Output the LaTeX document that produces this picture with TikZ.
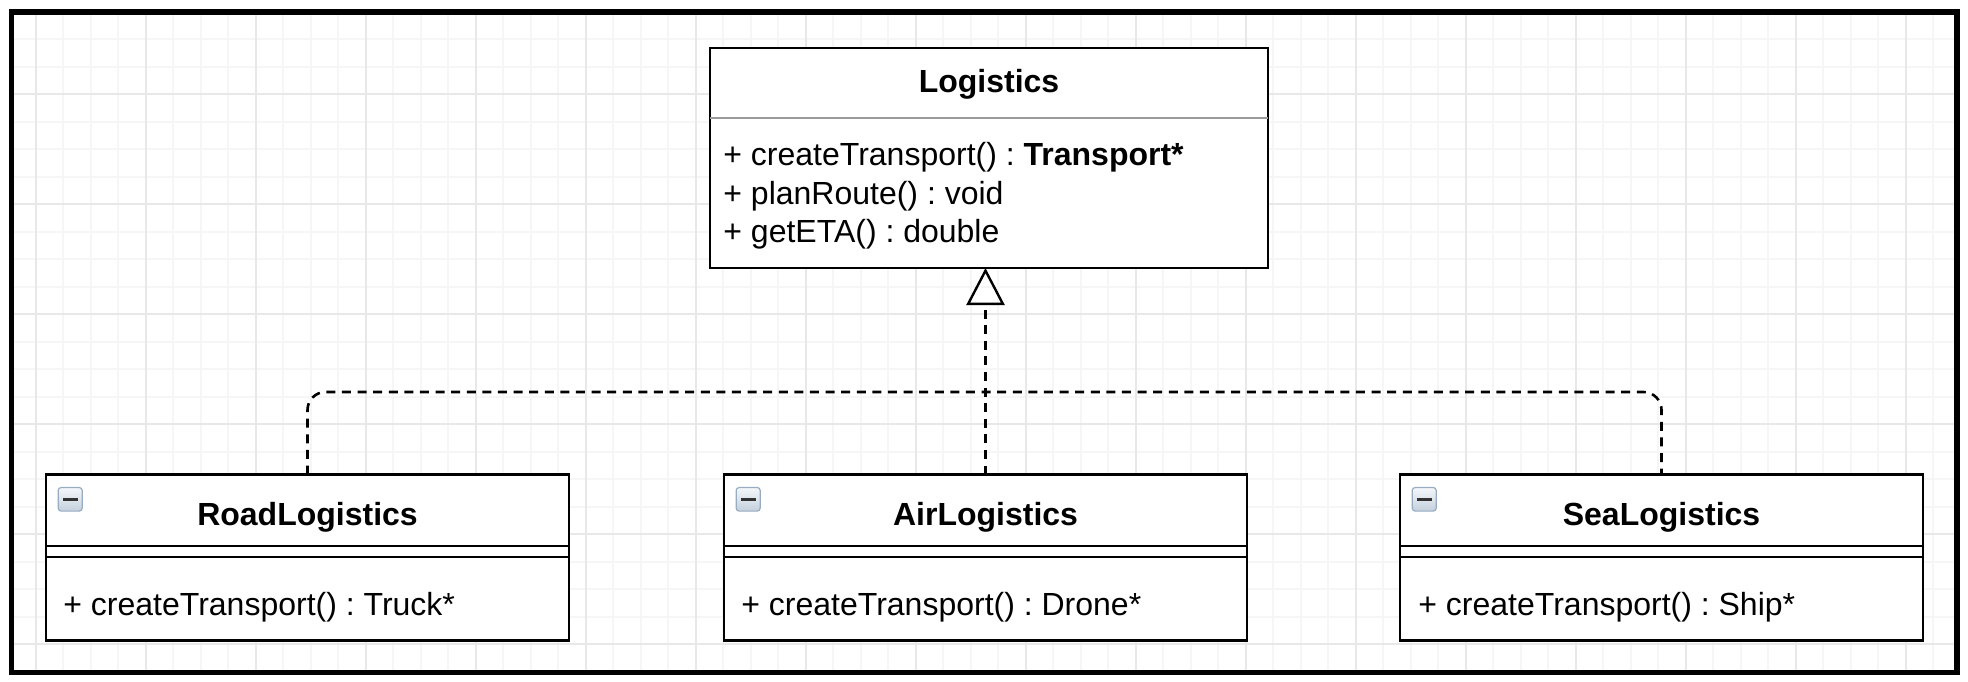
\documentclass[tikz,border=0pt]{standalone}
\usepackage{fontspec}
\setmainfont{Liberation Sans}
\usetikzlibrary{arrows.meta}
\definecolor{gridminor}{HTML}{F6F6F6}
\definecolor{gridmajor}{HTML}{E8E8E8}
\definecolor{iconedge}{HTML}{98ACC2}
\definecolor{icontop}{HTML}{F4F7FA}
\definecolor{iconbot}{HTML}{C4D0DC}
\definecolor{sepgray}{HTML}{9A9A9A}
\frenchspacing
\begin{document}
\begin{tikzpicture}[x=0.5pt,y=-0.5pt,
  box/.style={draw=black,line width=1.2pt,fill=white,inner sep=0pt,outer sep=0pt,anchor=north west},
  parentbox/.style={box,minimum width=279pt,minimum height=110pt},
  childbox/.style={box,minimum width=261.5pt,minimum height=83pt},
  classtitle/.style={font=\fontsize{16pt}{19pt}\selectfont\bfseries,anchor=base,inner sep=0pt},
  member/.style={font=\fontsize{16pt}{19pt}\selectfont,anchor=base west,inner sep=0pt},
  realize/.style={line width=1.3pt,dash pattern=on 4.5pt off 3.3pt},
  icon/.style={draw=iconedge,line width=0.6pt,rounded corners=1.5pt,top color=icontop,bottom color=iconbot,minimum width=12pt,minimum height=11.8pt,inner sep=0pt,anchor=north west},
  minus/.style={draw=black!80,line width=1.5pt},
  frame/.style={draw=black,line width=2.6pt}
]
\useasboundingbox (0,0) rectangle (1968,681);
% grid
\begin{scope}
\clip (11.5,12) rectangle (1957,672.5);
\foreach \i in {0,...,70} {
  \draw[gridminor,line width=0.9pt] ({35.7+27.5*\i},0) -- ({35.7+27.5*\i},681);
}
\foreach \i in {0,...,24} {
  \draw[gridminor,line width=0.9pt] (0,{11.8+27.5*\i}) -- (1968,{11.8+27.5*\i});
}
\foreach \i in {0,...,17} {
  \draw[gridmajor,line width=0.9pt] ({35.7+110*\i},0) -- ({35.7+110*\i},681);
}
\foreach \i in {0,...,6} {
  \draw[gridmajor,line width=0.9pt] (0,{94.3+110*\i}) -- (1968,{94.3+110*\i});
}
\end{scope}
\draw[frame] (11.5,12) rectangle (1957,672.5);

% parent class
\node[parentbox] (logistics) at (710,48) {};
\draw[sepgray,line width=1pt] ([yshift=-35pt]logistics.north west) -- ([yshift=-35pt]logistics.north east);
\node[classtitle] (logt) at (989,92) {Logistics};
\node[member] (lm1) at (723,165) {+ createTransport() : \textbf{Transport*}};
\node[member] (lm2) at (723,204) {+ planRoute() : void};
\node[member] (lm3) at (723,242) {+ getETA() : double};

% child classes
\node[childbox] (road) at (46,474.5) {};
\node[childbox] (air) at (724,474.5) {};
\node[childbox] (sea) at (1400,474.5) {};
\foreach \b in {road,air,sea} {
  \draw[line width=1.2pt] ([yshift=-35.75pt]\b.north west) -- ([yshift=-35.75pt]\b.north east);
  \draw[line width=1.2pt] ([yshift=-41.25pt]\b.north west) -- ([yshift=-41.25pt]\b.north east);
  \node[icon] (\b icon) at ([xshift=5.8pt,yshift=-6.2pt]\b.north west) {};
  \draw[minus] ([xshift=2.6pt]\b icon.west) -- ([xshift=-2.6pt]\b icon.east);
}
\node[classtitle] (roadt) at (307.5,525) {RoadLogistics};
\node[classtitle] (airt) at (985.5,525) {AirLogistics};
\node[classtitle] (seat) at (1661.5,525) {SeaLogistics};
\node[member] (roadm) at (63,615) {+ createTransport() : Truck*};
\node[member] (airm) at (741,615) {+ createTransport() : Drone*};
\node[member] (seam) at (1418,615) {+ createTransport() : Ship*};

% realization connectors
\coordinate (bus) at (0,392);
\draw[realize,rounded corners=9pt] (road.north) |- (bus -| sea.north) -- (sea.north);
\draw[realize,-{Triangle[open,length=18.5pt,width=19pt,line width=1.2pt]}] (air.north) -- (air.north |- logistics.south);
\end{tikzpicture}
\end{document}
